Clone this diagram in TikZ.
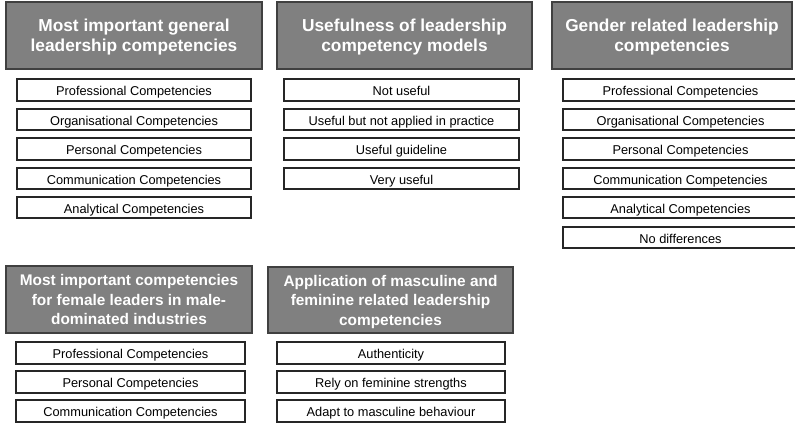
\documentclass[tikz,border=0pt]{standalone}
\usepackage{fontspec}
\setmainfont{Liberation Sans}
\begin{document}
\begin{tikzpicture}[x=1pt,y=-1pt,
  head/.style={draw=black!75,line width=1.6pt,fill=black!50,text=white,
    font=\fontsize{17.3}{20}\selectfont\bfseries,align=center,inner sep=0pt,
    text depth=0pt},
  smallhead/.style={head,font=\fontsize{15.4}{19.5}\selectfont\bfseries},
  item/.style={draw=black!85,line width=1.1pt,fill=white,
    font=\fontsize{12.8}{15}\selectfont,inner sep=0pt,
    text height=11pt,text depth=0pt}]
\useasboundingbox (0,0) rectangle (795,424);
% boxes placed by corners: style, name, x1, y1, x2, y2, text
\newcommand{\cbox}[7]{%
  \node[#1,minimum width={(#5-#3)*1pt},minimum height={(#6-#4)*1pt}]
    (#2) at ({(#3+#5)/2},{(#4+#6)/2}) {#7};}
% column 1
\cbox{head}{h1}{6}{2}{262}{69}{Most important general\\leadership competencies}
\cbox{item}{a1}{17}{79}{251}{101}{Professional Competencies}
\cbox{item}{a2}{17}{109}{251}{130}{Organisational Competencies}
\cbox{item}{a3}{17}{138}{251}{160}{Personal Competencies}
\cbox{item}{a4}{17}{168}{251}{189}{Communication Competencies}
\cbox{item}{a5}{17}{197}{251}{218}{Analytical Competencies}
% column 2
\cbox{head}{h2}{277}{2}{532}{69}{Usefulness of leadership\\competency models}
\cbox{item}{b1}{284}{79}{519}{101}{Not useful}
\cbox{item}{b2}{284}{109}{519}{130}{Useful but not applied in practice}
\cbox{item}{b3}{284}{138}{519}{160}{Useful guideline}
\cbox{item}{b4}{284}{168}{519}{189}{Very useful}
% column 3
\cbox{head}{h3}{552}{2}{792}{69}{Gender related leadership\\competencies}
\cbox{item}{c1}{563}{79}{798}{101}{Professional Competencies}
\cbox{item}{c2}{563}{109}{798}{130}{Organisational Competencies}
\cbox{item}{c3}{563}{138}{798}{160}{Personal Competencies}
\cbox{item}{c4}{563}{168}{798}{189}{Communication Competencies}
\cbox{item}{c5}{563}{197}{798}{218}{Analytical Competencies}
\cbox{item}{c6}{563}{227}{798}{248}{No differences}
% lower row
\cbox{smallhead}{h4}{6}{266}{252}{333}{Most important competencies\\for female leaders in male-\\dominated industries}
\cbox{item}{d1}{16}{342}{245}{364}{Professional Competencies}
\cbox{item}{d2}{16}{371}{245}{393}{Personal Competencies}
\cbox{item}{d3}{16}{400}{245}{422}{Communication Competencies}
\cbox{smallhead}{h5}{268}{267}{513}{333}{Application of masculine and\\feminine related leadership\\competencies}
\cbox{item}{e1}{277}{342}{505}{364}{Authenticity}
\cbox{item}{e2}{277}{371}{505}{393}{Rely on feminine strengths}
\cbox{item}{e3}{277}{400}{505}{422}{Adapt to masculine behaviour}
\end{tikzpicture}
\end{document}
